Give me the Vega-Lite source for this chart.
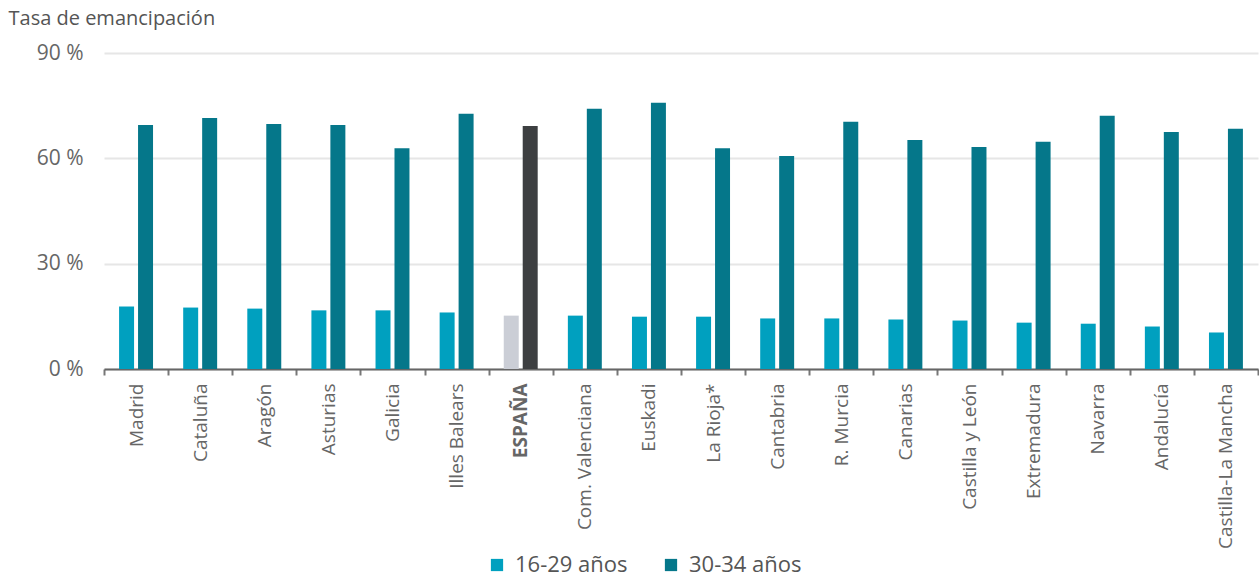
{
  "$schema": "https://vega.github.io/schema/vega-lite/v6.json",
  "width": 1154,
  "height": 316,
  "autosize": {"type": "none"},
  "padding": {"left": 104, "top": 53, "right": 1, "bottom": 209},
  "background": "#ffffff",
  "config": {
    "view": {"stroke": null},
    "font": "Open Sans"
  },
  "data": {
    "values": [
      {"region": "Madrid", "serie": "16-29 años", "valor": 17.8},
      {"region": "Madrid", "serie": "30-34 años", "valor": 69.5},
      {"region": "Cataluña", "serie": "16-29 años", "valor": 17.5},
      {"region": "Cataluña", "serie": "30-34 años", "valor": 71.5},
      {"region": "Aragón", "serie": "16-29 años", "valor": 17.2},
      {"region": "Aragón", "serie": "30-34 años", "valor": 69.8},
      {"region": "Asturias", "serie": "16-29 años", "valor": 16.7},
      {"region": "Asturias", "serie": "30-34 años", "valor": 69.5},
      {"region": "Galicia", "serie": "16-29 años", "valor": 16.7},
      {"region": "Galicia", "serie": "30-34 años", "valor": 62.9},
      {"region": "Illes Balears", "serie": "16-29 años", "valor": 16.1},
      {"region": "Illes Balears", "serie": "30-34 años", "valor": 72.7},
      {"region": "ESPAÑA", "serie": "16-29 años", "valor": 15.2},
      {"region": "ESPAÑA", "serie": "30-34 años", "valor": 69.2},
      {"region": "Com. Valenciana", "serie": "16-29 años", "valor": 15.2},
      {"region": "Com. Valenciana", "serie": "30-34 años", "valor": 74.1},
      {"region": "Euskadi", "serie": "16-29 años", "valor": 14.9},
      {"region": "Euskadi", "serie": "30-34 años", "valor": 75.8},
      {"region": "La Rioja*", "serie": "16-29 años", "valor": 14.9},
      {"region": "La Rioja*", "serie": "30-34 años", "valor": 62.9},
      {"region": "Cantabria", "serie": "16-29 años", "valor": 14.4},
      {"region": "Cantabria", "serie": "30-34 años", "valor": 60.7},
      {"region": "R. Murcia", "serie": "16-29 años", "valor": 14.4},
      {"region": "R. Murcia", "serie": "30-34 años", "valor": 70.4},
      {"region": "Canarias", "serie": "16-29 años", "valor": 14.1},
      {"region": "Canarias", "serie": "30-34 años", "valor": 65.2},
      {"region": "Castilla y León", "serie": "16-29 años", "valor": 13.8},
      {"region": "Castilla y León", "serie": "30-34 años", "valor": 63.2},
      {"region": "Extremadura", "serie": "16-29 años", "valor": 13.2},
      {"region": "Extremadura", "serie": "30-34 años", "valor": 64.7},
      {"region": "Navarra", "serie": "16-29 años", "valor": 12.9},
      {"region": "Navarra", "serie": "30-34 años", "valor": 72.1},
      {"region": "Andalucía", "serie": "16-29 años", "valor": 12.1},
      {"region": "Andalucía", "serie": "30-34 años", "valor": 67.5},
      {"region": "Castilla-La Mancha", "serie": "16-29 años", "valor": 10.4},
      {"region": "Castilla-La Mancha", "serie": "30-34 años", "valor": 68.4}
    ]
  },
  "mark": {"type": "bar"},
  "encoding": {
    "x": {
      "field": "region",
      "type": "nominal",
      "sort": null,
      "scale": {"paddingInner": 0, "paddingOuter": 0},
      "axis": {
        "title": null,
        "labelAngle": -90,
        "labelAlign": "right",
        "labelBaseline": "middle",
        "labelFontSize": 19,
        "labelColor": "#666666",
        "labelFontWeight": {"condition": {"test": "datum.value === 'ESPAÑA'", "value": "bold"}, "value": "normal"},
        "labelPadding": 8,
        "tickBand": "extent",
        "tickSize": 6,
        "tickColor": "#777777",
        "tickWidth": 2,
        "domainColor": "#666666",
        "domainWidth": 2,
        "grid": false
      }
    },
    "xOffset": {
      "field": "serie",
      "type": "nominal",
      "scale": {"paddingInner": 0.21, "paddingOuter": 0.795}
    },
    "y": {
      "field": "valor",
      "type": "quantitative",
      "scale": {"domain": [0, 90]},
      "axis": {
        "values": [0, 30, 60, 90],
        "labelExpr": "datum.value + ' %'",
        "labelFontSize": 21,
        "labelColor": "#666666",
        "labelPadding": 21,
        "domain": false,
        "ticks": false,
        "grid": true,
        "gridColor": "#e6e6e6",
        "gridWidth": 2,
        "title": "Tasa de emancipación",
        "titleAngle": 0,
        "titleAlign": "left",
        "titleBaseline": "alphabetic",
        "titleX": -96,
        "titleY": -29,
        "titleFontSize": 20,
        "titleFontWeight": "normal",
        "titleColor": "#555555"
      }
    },
    "color": {
      "field": "serie",
      "type": "nominal",
      "scale": {"domain": ["16-29 años", "30-34 años"], "range": ["#00a0bf", "#05778a"]},
      "condition": [
        {"test": "datum.region === 'ESPAÑA' && datum.serie === '16-29 años'", "value": "#cbced6"},
        {"test": "datum.region === 'ESPAÑA' && datum.serie === '30-34 años'", "value": "#3d3f41"}
      ],
      "legend": {
        "title": null,
        "orient": "none",
        "direction": "horizontal",
        "legendX": 382,
        "legendY": 501,
        "symbolType": "square",
        "symbolSize": 150,
        "symbolStrokeWidth": 0,
        "labelFontSize": 22,
        "labelColor": "#555555",
        "labelOffset": 7,
        "columnPadding": 32
      }
    }
  }
}
